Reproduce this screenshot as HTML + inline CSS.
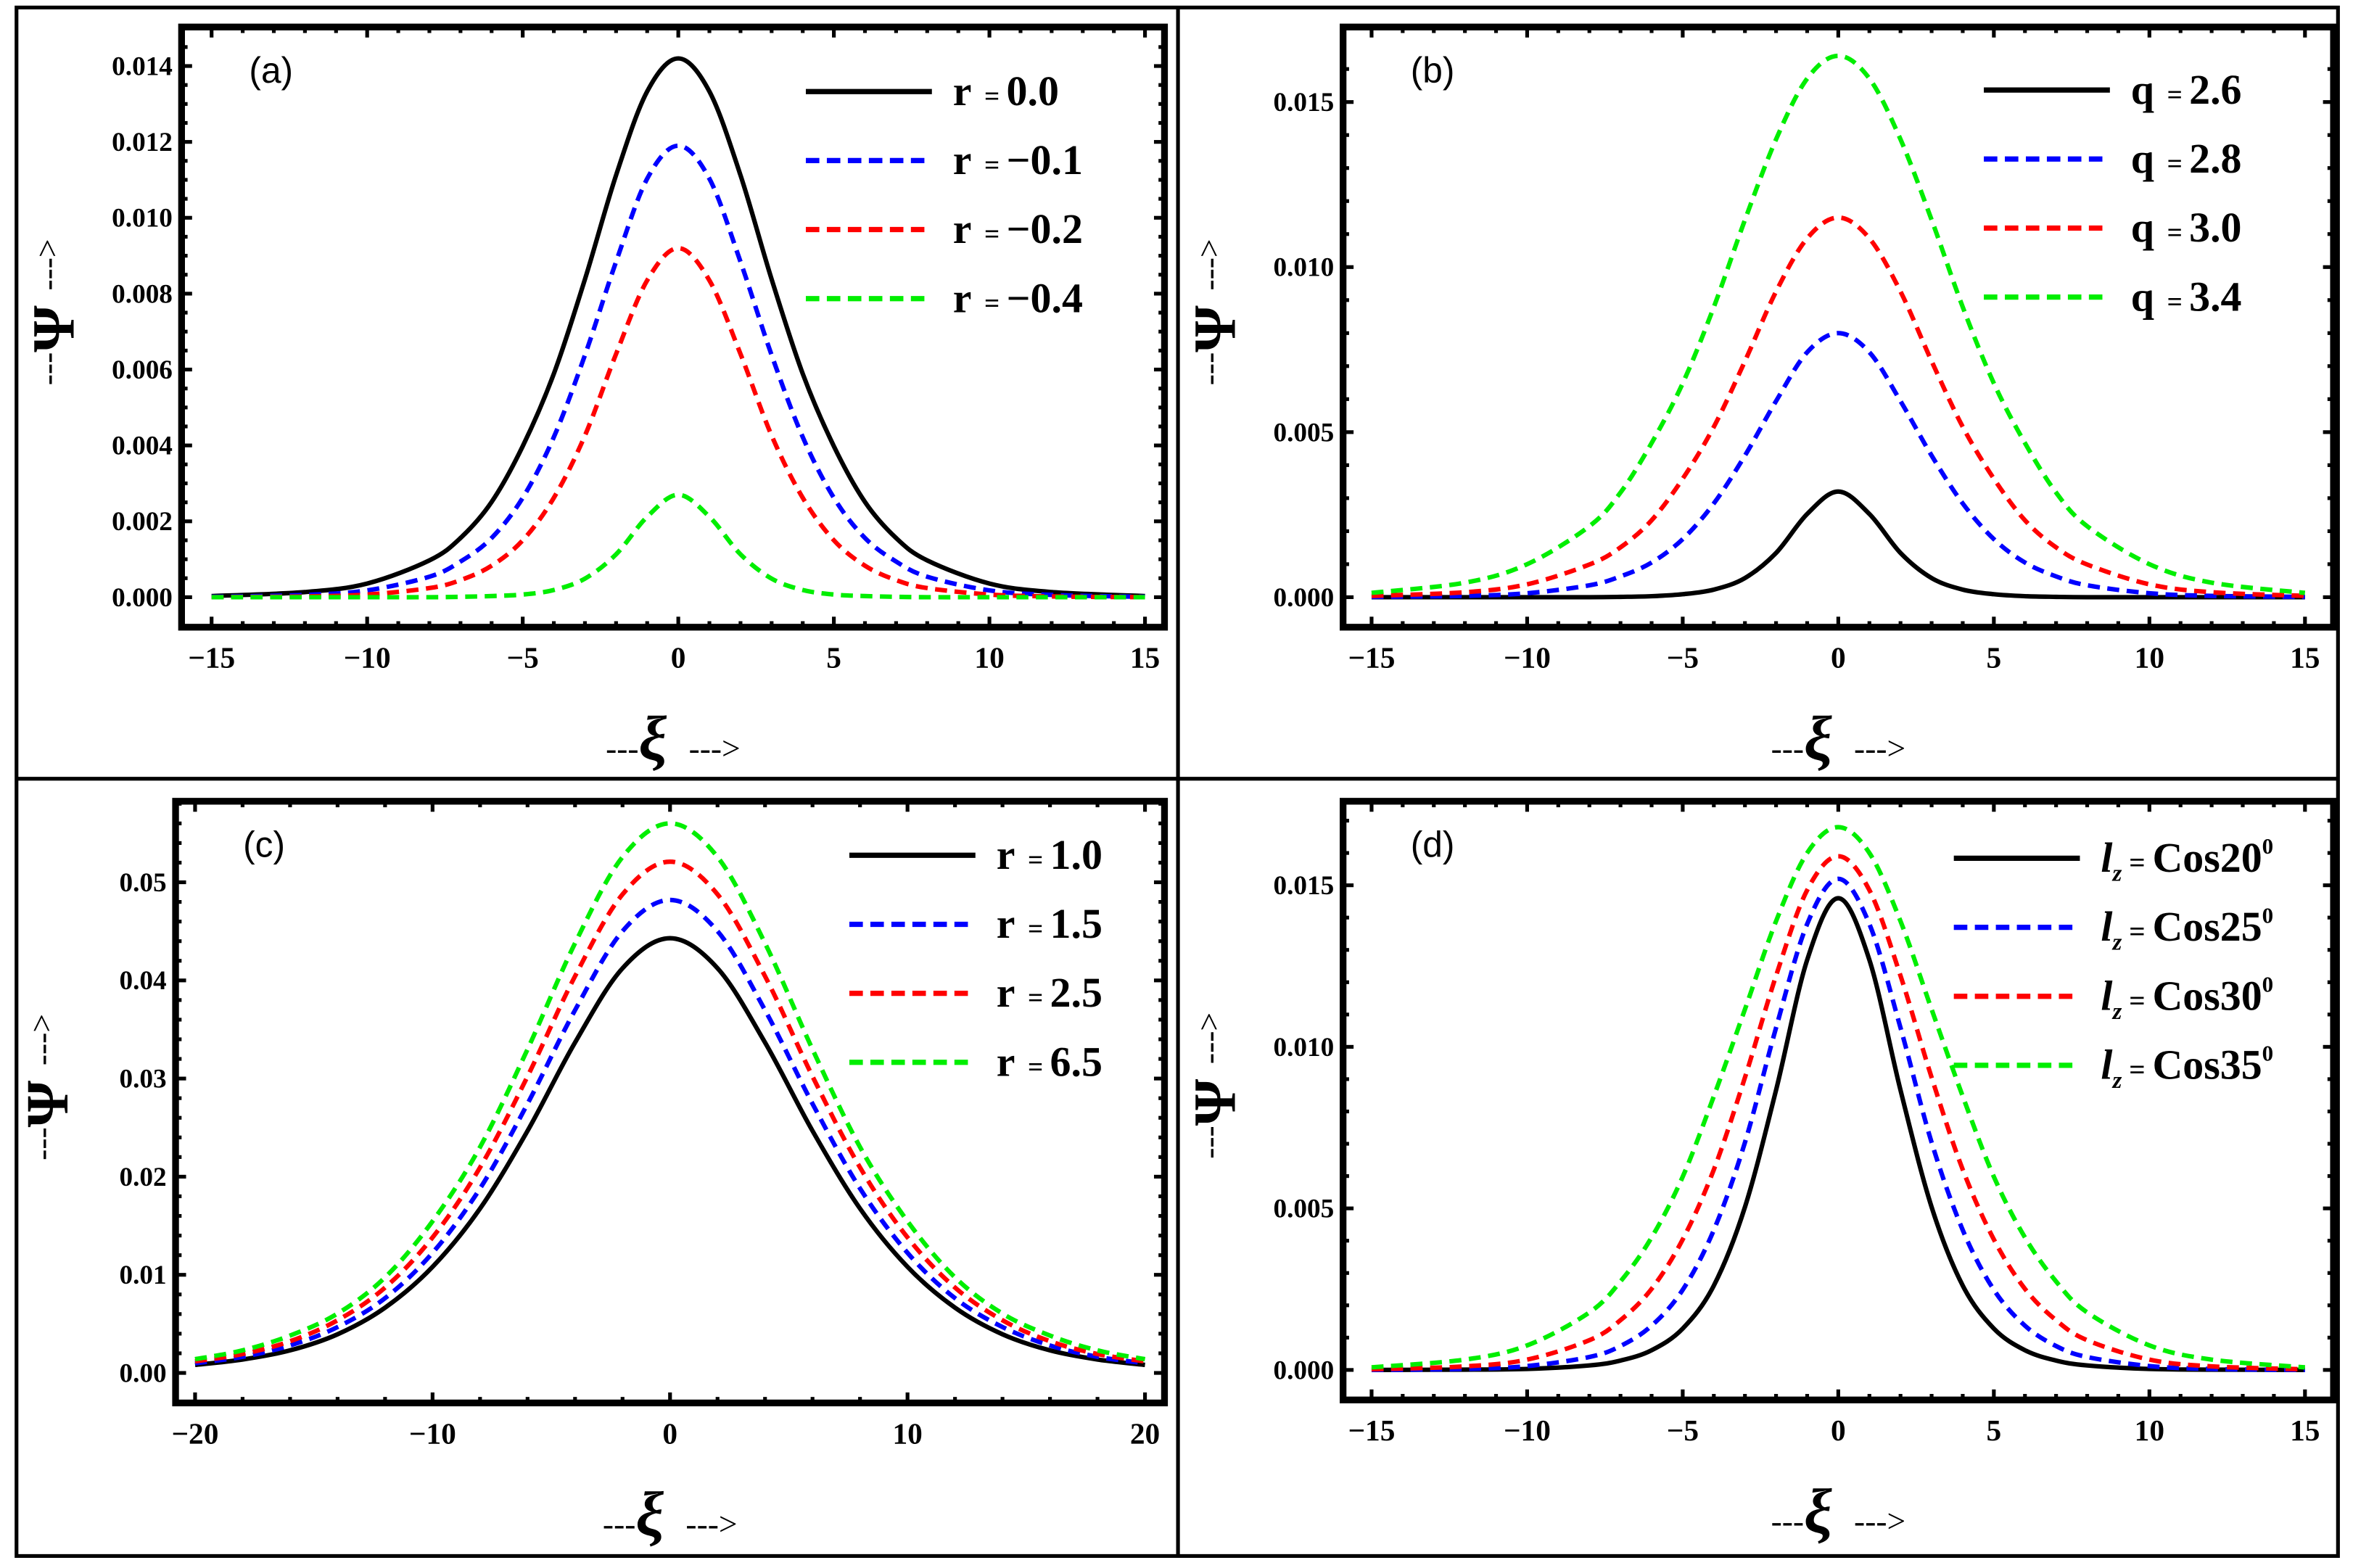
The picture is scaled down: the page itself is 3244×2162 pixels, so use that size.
<!DOCTYPE html>
<html><head><meta charset="utf-8"><style>
html,body{margin:0;padding:0;background:#fff;}
svg{display:block;}
text{font-family:"Liberation Serif",serif;}
</style></head>
<body>
<svg id="fig" xmlns="http://www.w3.org/2000/svg" width="3244" height="2162" viewBox="0 0 1568 1045" preserveAspectRatio="none">
<rect x="0" y="0" width="1568" height="1045" fill="#fff"/>
<g fill="none" stroke="#000" stroke-width="2.5">
<rect x="11" y="5" width="1547" height="1032"/>
<line x1="785" y1="5" x2="785" y2="1037"/>
<line x1="11" y1="519" x2="1558" y2="519"/>
</g>
</svg>
<script>
// Shared sample positions (|xi|), curves are mirrored about 0
const xsAB = [0,1,2,3,4,5,6,7,8,10,12,15];
const xsC = [0,2,4,6,8,10,12,14,16,18,20];
// Panel (a)
const aLabels = ["r = 0.0","r = \u22120.1","r = \u22120.2","r = \u22120.4"];
const aBlack = [.0142,.01333,.01112,.00838,.00589,.00398,.00251,.00156,.00097,.00036,.000135,.00003];
const aBlue = [.0119,.01103,.00884,.00638,.00422,.00262,.00156,.00094,.00054,.00018,.00006,.00001];
const aRed = [.0092,.00835,.00641,.00426,.00262,.0015,.00083,.00045,.00024,.00007,.00002,0];
const aGreen = [.0027,.00212,.00113,.00049,.00019,.00007,.00003,.00001,0,0,0,0];
const aYTicks = [0,0.002,0.004,0.006,0.008,0.010,0.012,0.014];
const aYTickLabels = ["0.000","0.002","0.004","0.006","0.008","0.010","0.012","0.014"];
// Panel (b)
const bLabels = ["q = 2.6","q = 2.8","q = 3.0","q = 3.4"];
const bBlack = [.0032,.00252,.00134,.00058,.00023,.00009,.00003,.00001,0,0,0,0];
const bBlue = [.0080,.00742,.00594,.00429,.00284,.00176,.00105,.00063,.00036,.00012,.00004,.00001];
const bRed = [.0115,.01087,.00926,.00715,.00516,.00359,.00233,.00151,.00099,.00039,.00015,.00004];
const bGreen = [.0164,.01571,.01387,.01143,.00879,.00648,.00467,.00317,.00215,.001,.00044,.00013];
const bYTicks = [0,0.005,0.010,0.015];
const bYTickLabels = ["0.000","0.005","0.010","0.015"];
// Panel (c)
const cLabels = ["r = 1.0","r = 1.5","r = 2.5","r = 6.5"];
const cBlack = [.0443,.04124,.03367,.02467,.01675,.01081,.00665,.00394,.0023,.00137,.00082];
const cBlue = [.0482,.04502,.03697,.02743,.0188,.01224,.00762,.00468,.0028,.00164,.00099];
const cRed = [.0521,.04877,.04043,.03022,.02094,.01381,.0087,.00537,.00323,.00193,.00118];
const cGreen = [.056,.05258,.04379,.03298,.02302,.01546,.00974,.00605,.00381,.0023,.0014];
const cYTicks = [0,0.01,0.02,0.03,0.04,0.05];
const cYTickLabels = ["0.00","0.01","0.02","0.03","0.04","0.05"];
// Panel (d)
const dLabels = ["20","25","30","35"];
const dBlack = [.0146,.01269,.00866,.00504,.00261,.00128,.00061,.00029,.00014,.00003,.00001,0];
const dBlue = [.0152,.0138,.01059,.00704,.00433,.00248,.00137,.00074,.0004,.00012,.00003,0];
const dRed = [.0159,.01485,.0122,.00905,.0062,.00404,.00251,.00154,.00092,.00032,.00011,.00002];
const dGreen = [.0168,.016,.01389,.01116,.00847,.00598,.0041,.00274,.00178,.00076,.00032,.00008];
const dYTicks = [0,0.005,0.010,0.015];
const dYTickLabels = ["0.000","0.005","0.010","0.015"];
const xTicks15 = [-15,-10,-5,0,5,10,15];
const xTicks20 = [-20,-10,0,10,20];

const NS="http://www.w3.org/2000/svg";
const svg=document.getElementById('fig');
function mk(tag,attrs,parent){const e=document.createElementNS(NS,tag);for(const k in attrs)e.setAttribute(k,attrs[k]);(parent||svg).appendChild(e);return e;}
const colors=["#000","#0000ff","#ff0000","#00ee00"];

function panel(p){
  const g=mk('g',{});
  
  
  const sx=v=>p.px0+(v-p.xmin)/(p.xmax-p.xmin)*(p.px1-p.px0);
  const sy=v=>p.py0-(v-p.ymin)/(p.ymax-p.ymin)*(p.py0-p.py1);
  p.series.forEach((vals,i)=>{
    const pts=[];
    for(let k=p.xs.length-1;k>0;k--)pts.push([-p.xs[k],vals[k]]);
    for(let k=0;k<p.xs.length;k++)pts.push([p.xs[k],vals[k]]);
    const P=pts.map(q=>[sx(q[0]),sy(q[1])]);
    let d='M'+P[0][0]+','+P[0][1];
    for(let k=0;k<P.length-1;k++){
      const p0=P[Math.max(k-1,0)],p1=P[k],p2=P[k+1],p3=P[Math.min(k+2,P.length-1)];
      const c1=[p1[0]+(p2[0]-p0[0])/6,p1[1]+(p2[1]-p0[1])/6];
      const c2=[p2[0]-(p3[0]-p1[0])/6,p2[1]-(p3[1]-p1[1])/6];
      d+=' C'+c1[0]+','+c1[1]+' '+c2[0]+','+c2[1]+' '+p2[0]+','+p2[1];
    }
    const path=mk('path',{d:d,fill:'none',stroke:colors[i],'stroke-width':3,'stroke-dasharray':i?'8 5':'none'},g);
    
    
  });
  const fr=mk('rect',{x:p.fx0,y:p.fy0,width:p.fx1-p.fx0,height:p.fy1-p.fy0,fill:'none',stroke:'#000','stroke-width':4.5},g);
  
  
  const xstep=p.xminor;
  for(let v=p.xmin;v<=p.xmax+1e-9;v+=xstep){
    const major=p.xticks.some(t=>Math.abs(t-v)<1e-9);const L=major?7:4;const x=sx(v);
    mk('line',{x1:x,y1:p.fy1,x2:x,y2:p.fy1-L,stroke:'#000','stroke-width':2.5},g);
    mk('line',{x1:x,y1:p.fy0,x2:x,y2:p.fy0+L,stroke:'#000','stroke-width':2.5},g);
  }
  p.xticks.forEach(t=>{
    const tx=mk('text',{x:sx(t),y:p.fy1+27,'font-size':20,'font-weight':'bold','text-anchor':'middle'},g);
    tx.textContent=t<0?'\u2212'+(-t):String(t);
    
    
  });
  const ystep=p.yminor;
  for(let v=p.ymin;v<=p.ymaxTick+1e-12;v+=ystep){
    const major=p.yticks.some(t=>Math.abs(t-v)<1e-9);const L=major?7:4;const y=sy(v);
    mk('line',{x1:p.fx0,y1:y,x2:p.fx0+L,y2:y,stroke:'#000','stroke-width':2.5},g);
    mk('line',{x1:p.fx1,y1:y,x2:p.fx1-L,y2:y,stroke:'#000','stroke-width':2.5},g);
  }
  p.yticks.forEach((t,i)=>{
    const tx=mk('text',{x:p.fx0-6,y:sy(t)+6,'font-size':18,'font-weight':'bold','text-anchor':'end'},g);
    tx.textContent=p.ylabels[i];
    
    
  });
  const tg=mk('text',{x:p.fx0+45,y:p.fy0+37,'font-size':24},g);
  tg.setAttribute('style','font-family:"Liberation Sans",sans-serif');
  tg.textContent='('+p.id+')';
  
  
  p.labels.forEach((lab,i)=>{
    const y=p.legY+i*46;
    const ln=mk('line',{x1:p.legX,y1:y,x2:p.legX+84,y2:y,stroke:colors[i],'stroke-width':3.5,'stroke-dasharray':i?'9 5':'none'},g);
    
    
    const t=mk('text',{x:p.legX+98,y:y+9,'font-size':28,'font-weight':'bold'},g);
    if(p.id==='d'){
      t.innerHTML='<tspan font-style="italic">l</tspan><tspan font-size="16" font-style="italic" dy="6">z</tspan><tspan font-size="19" dy="-6"> = </tspan>Cos'+lab+'<tspan font-size="15" dy="-12">0</tspan>';
    } else {
      const parts=lab.split(' = ');
      t.innerHTML=parts[0]+'<tspan font-size="18" dx="4"> = </tspan>'+parts[1];
    }
    
    
  });
  const xt=mk('text',{x:(p.fx0+p.fx1)/2,y:p.fy1+88,'text-anchor':'middle'},g);
  xt.innerHTML='<tspan font-size="22">---</tspan><tspan font-size="42" font-weight="bold" font-style="italic">\u03be </tspan><tspan font-size="22" dx="4">---&gt;</tspan>';
  
  
  const cy=(p.fy0+p.fy1)/2-10;
  const yt=mk('text',{x:0,y:0,'text-anchor':'middle',transform:'translate('+(p.fx0-82)+','+cy+') rotate(-90)'},g);
  yt.innerHTML='<tspan font-size="22">---</tspan><tspan font-size="40" font-weight="bold" dy="10">\u03a8 </tspan><tspan font-size="22" dy="-10">---&gt;</tspan>';
  
  
}

panel({id:'a',xs:xsAB,series:[aBlack,aBlue,aRed,aGreen],labels:aLabels,yticks:aYTicks,ylabels:aYTickLabels,
  xmin:-15,xmax:15,px0:141,px1:763,ymin:0,ymax:0.014,py0:398,py1:44,ymaxTick:0.0148,xminor:1,yminor:0.0005,
  fx0:121,fx1:776,fy0:18,fy1:418,xticks:xTicks15,legX:537,legY:61});
panel({id:'b',xs:xsAB,series:[bBlack,bBlue,bRed,bGreen],labels:bLabels,yticks:bYTicks,ylabels:bYTickLabels,
  xmin:-15,xmax:15,px0:914,px1:1536,ymin:0,ymax:0.015,py0:398,py1:68,ymaxTick:0.0168,xminor:1,yminor:0.001,
  fx0:895,fx1:1555,fy0:18,fy1:418,xticks:xTicks15,legX:1322,legY:60});
panel({id:'c',xs:xsC,series:[cBlack,cBlue,cRed,cGreen],labels:cLabels,yticks:cYTicks,ylabels:cYTickLabels,
  xmin:-20,xmax:20,px0:130,px1:763,ymin:0,ymax:0.05,py0:915,py1:588,ymaxTick:0.058,xminor:2,yminor:0.002,
  fx0:117,fx1:776,fy0:534,fy1:935,xticks:xTicks20,legX:566,legY:570});
panel({id:'d',xs:xsAB,series:[dBlack,dBlue,dRed,dGreen],labels:dLabels,yticks:dYTicks,ylabels:dYTickLabels,
  xmin:-15,xmax:15,px0:914,px1:1536,ymin:0,ymax:0.015,py0:913,py1:590,ymaxTick:0.0172,xminor:1,yminor:0.001,
  fx0:895,fx1:1555,fy0:534,fy1:933,xticks:xTicks15,legX:1302,legY:572});
</script>
</body></html>
